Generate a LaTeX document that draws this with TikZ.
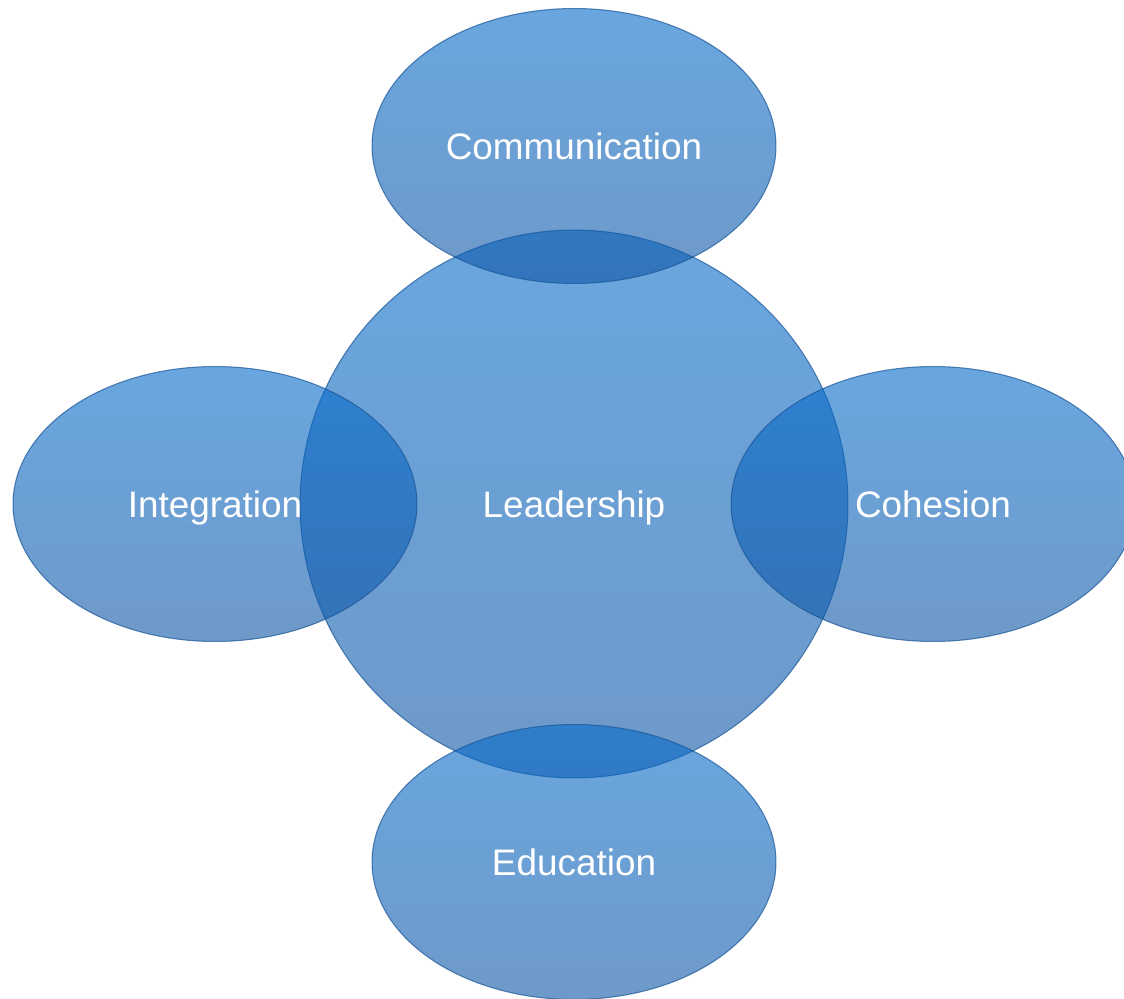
\documentclass[tikz,border=0pt]{standalone}
\usepackage{fontspec}
\setmainfont{Liberation Sans}
\usetikzlibrary{shapes.geometric}
\definecolor{bubbletop}{RGB}{5,107,202}
\definecolor{bubblebot}{RGB}{14,85,165}
\definecolor{bubbleline}{RGB}{25,85,150}
\tikzset{
    bubble/.style={ellipse, minimum width=8.08cm, minimum height=5.5cm,
        top color=bubbletop, bottom color=bubblebot, fill opacity=0.6,
        draw=bubbleline, draw opacity=0.7, line width=0.6pt,
        text=white, text opacity=1, text height=15pt, text depth=0pt,
        font=\fontsize{21}{25}\selectfont},
    hub/.style={bubble, circle, minimum size=10.96cm}
}
\begin{document}
\begin{tikzpicture}[x=0.02cm,y=-0.02cm]
        \useasboundingbox (0,0) rectangle (1124,999);
        \clip (0,0) rectangle (1124,999);
        \node[hub] (lead) at (574,504) {Leadership};
        \node[bubble] (comm) at (574,146) {Communication};
        \node[bubble] (integ) at (215,504) {Integration};
        \node[bubble] (coh) at (933,504) {Cohesion};
        \node[bubble] (edu) at (574,862) {Education};
    \end{tikzpicture}
\end{document}
